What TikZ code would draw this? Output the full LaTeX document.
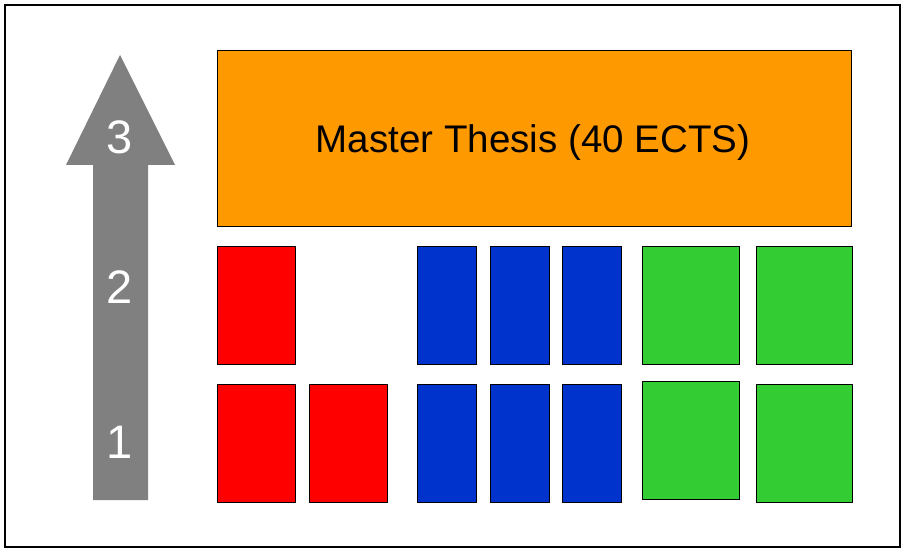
\documentclass[tikz,border=0pt]{standalone}
\usepackage{fontspec}
\setmainfont{Liberation Sans}
\begin{document}
\begin{tikzpicture}[x=1pt,y=-1pt,
  box/.style={draw=black, line width=0.8pt, anchor=north west, inner sep=0pt, outer sep=0pt},
  redbox/.style={box, fill=red, minimum width=78pt, minimum height=118pt},
  bluebox/.style={box, fill=bluecol, minimum width=59pt, minimum height=118pt},
  greenbox/.style={box, fill=greencol, minimum width=97pt, minimum height=118pt},
  level/.style={text=white, font=\fontsize{47}{50}\selectfont}]
\definecolor{orangecol}{HTML}{FF9900}
\definecolor{bluecol}{HTML}{0033CC}
\definecolor{greencol}{HTML}{33CC33}
\definecolor{arrowgray}{HTML}{808080}
\useasboundingbox (0,0) rectangle (903,548);
\fill[white] (0,0) rectangle (903,548);
% outer frame
\draw[line width=2pt] (5,5) rectangle (900,547);
% level arrow
\fill[arrowgray] (120,55) -- (175,165) -- (148,165) -- (148,500) -- (93,500) -- (93,165) -- (66,165) -- cycle;
\node[level] (l3) at (120,137) {3};
\node[level] (l2) at (120,287) {2};
\node[level] (l1) at (120,442) {1};
% thesis block
\node[box, fill=orangecol, minimum width=634pt, minimum height=176pt] (thesis) at (217,50) {};
\node[anchor=base, font=\fontsize{38.5}{40}\selectfont, inner sep=0pt] (thesislabel) at (533,153) {Master Thesis (40 ECTS)};
% second year courses
\node[redbox] (r2a) at (217,246) {};
\node[bluebox] (b2a) at (417,246) {};
\node[bluebox] (b2b) at (490,246) {};
\node[bluebox] (b2c) at (562,246) {};
\node[greenbox] (g2a) at (642,246) {};
\node[greenbox, minimum width=96pt] (g2b) at (756,246) {};
% first year courses
\node[redbox] (r1a) at (217,384) {};
\node[redbox] (r1b) at (309,384) {};
\node[bluebox] (b1a) at (417,384) {};
\node[bluebox] (b1b) at (490,384) {};
\node[bluebox] (b1c) at (562,384) {};
\node[greenbox] (g1a) at (642,381) {};
\node[greenbox, minimum width=96pt] (g1b) at (756,384) {};
\end{tikzpicture}
\end{document}
